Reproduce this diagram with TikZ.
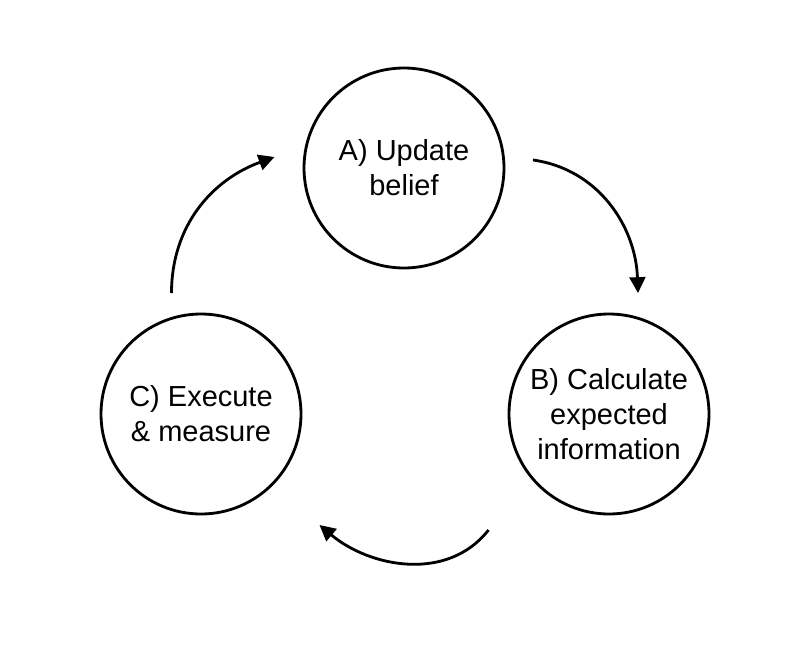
\documentclass[tikz,border=0pt]{standalone}
\usepackage{fontspec}
\setmainfont{Liberation Sans}
\usepackage{tikz}
\usetikzlibrary{arrows.meta}
\tikzstyle{stage} = [circle, draw=black, line width=1.6pt, minimum size=4cm, inner sep=0pt, align=center, font=\fontsize{16.5}{20}\selectfont]
\tikzstyle{arrow} = [line width=1.6pt, ->, >={Triangle[length=9pt,width=9pt]}]

\begin{document}
\begin{tikzpicture}
		\useasboundingbox (0,0) rectangle (16.22,13.12);
		\coordinate (update) at (8.08,9.76);
		\coordinate (calc) at (12.18,4.84);
		\coordinate (exec) at (4.02,4.84);
		\coordinate (updateout) at (10.66,9.92);
		\coordinate (calcin) at (12.76,7.26);
		\coordinate (calcout) at (9.77,2.52);
		\coordinate (execin) at (6.39,2.62);
		\coordinate (execout) at (3.43,7.26);
		\coordinate (updatein) at (5.49,9.98);
		% Stages of the loop
		\node[stage, name=update] at (update) {A) Update\\belief};
		\node[stage, name=calc] at (calc) {B) Calculate\\expected\\information};
		\node[stage, name=exec] at (exec) {C) Execute\\\& measure};
		% Curved arrows between stages
		\draw [arrow] (updateout) to[out=-8, in=92] (calcin);
		\draw [arrow] (calcout) to[out=-128, in=-40] (execin);
		\draw [arrow] (execout) to[out=90, in=-160] (updatein);
		\end{tikzpicture}
\end{document}
